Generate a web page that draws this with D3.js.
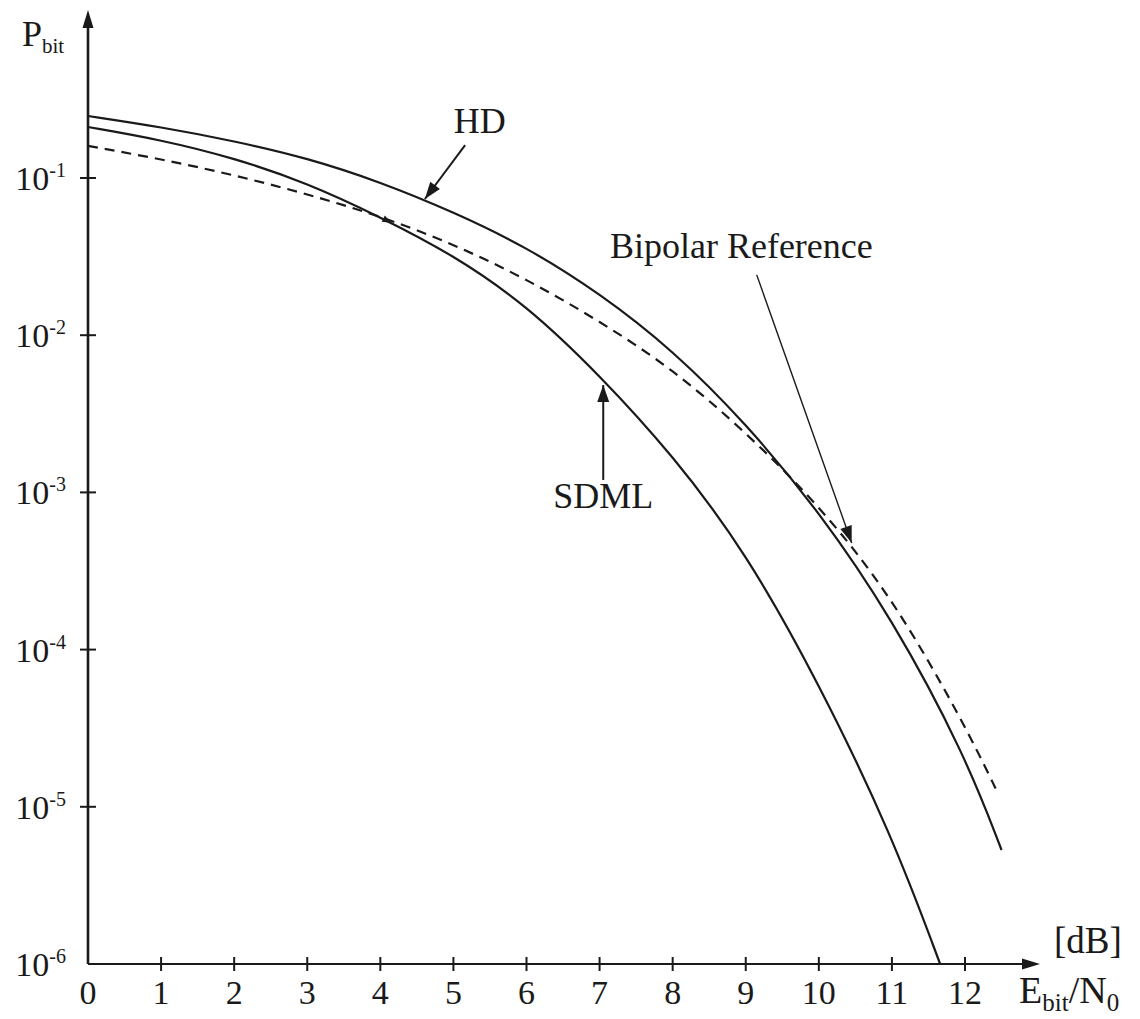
<!DOCTYPE html>
<html>
<head>
<meta charset="utf-8">
<script src="https://cdnjs.cloudflare.com/ajax/libs/d3/7.8.5/d3.min.js"></script>
<style>
  body { margin: 0; background: #fff; }
  svg { display: block; font-family: "Liberation Serif", "Times New Roman", serif; }
  text { fill: #1a1a1a; }
</style>
</head>
<body>
<div id="chart"></div>
<script>
// values (Eb/N0 in dB, bit error probability)
const xTicks = [0, 1, 2, 3, 4, 5, 6, 7, 8, 9, 10, 11, 12];
const yTickExp = [-1, -2, -3, -4, -5, -6];

const hdDb = [0, 1, 2, 3, 4, 5, 6, 7, 8, 9, 10, 11, 12, 12.5];
const hdP = [0.248, 0.211, 0.172, 0.134, 0.0944, 0.0608, 0.0364, 0.0185, 0.00805, 0.00276, 7.62e-4, 1.59e-4, 2.14e-5, 5.31e-6];

const sdmlDb = [0, 1, 2, 3, 4, 5, 6, 7, 8, 9, 10, 11, 11.66];
const sdmlP = [0.211, 0.175, 0.134, 0.0929, 0.0565, 0.0324, 0.01556, 0.00558, 0.00173, 4.18e-4, 6.14e-5, 6.62e-6, 1.0e-6];

const bipolarDb = [0, 1, 2, 3, 4, 5, 6, 7, 8, 9, 10, 11, 12, 12.45];
const bipolarP = [0.160, 0.132, 0.1045, 0.0791, 0.0573, 0.038, 0.0228, 0.0123, 0.0061, 0.00242, 8.32e-4, 2.19e-4, 3.31e-5, 1.22e-5];

// annotations: label position, arrow start, arrow tip (data units)
const notes = [
  { text: "HD", at: [5.36, 0.193], from: [5.16, 0.162], to: [4.61, 0.0735], thin: false },
  { text: "Bipolar Reference", at: [8.94, 0.031], from: [9.15, 0.0242], to: [10.45, 4.76e-4], thin: true },
  { text: "SDML", at: [7.05, 8.0e-4], from: [7.05, 1.2e-3], to: [7.05, 4.82e-3], thin: false }
];

const W = 1140, H = 1019;
const svg = d3.select("#chart").append("svg")
  .attr("width", W).attr("height", H);

const x = d3.scaleLinear().domain([0, 12]).range([88, 965]);
const y = d3.scaleLog().domain([1e-6, 1e-1]).range([964, 178]);

const ink = "#1a1a1a";
const x0 = x(0), yBase = y(1e-6);

function arrowHead(g, tip, from, len, half) {
  const dx = tip[0] - from[0], dy = tip[1] - from[1];
  const d = Math.hypot(dx, dy), ux = dx / d, uy = dy / d;
  const bx = tip[0] - ux * len, by = tip[1] - uy * len;
  g.append("path")
    .attr("d", `M${tip[0]},${tip[1]}L${bx - uy * half},${by + ux * half}L${bx + uy * half},${by - ux * half}Z`)
    .attr("fill", ink);
}

/* ------- AXES -------*/
const axes = svg.append("g");
axes.append("line")
  .attr("x1", x0).attr("y1", yBase).attr("x2", x0).attr("y2", 22)
  .attr("stroke", ink).attr("stroke-width", 2.6);
arrowHead(axes, [x0, 10], [x0, 100], 18, 5.5);

axes.append("line")
  .attr("x1", x0).attr("y1", yBase).attr("x2", 1026).attr("y2", yBase)
  .attr("stroke", ink).attr("stroke-width", 2.2);
arrowHead(axes, [1040, yBase], [900, yBase], 18, 5.5);

axes.selectAll("line.xt").data(xTicks.slice(1)).enter().append("line")
  .attr("class", "xt")
  .attr("x1", d => x(d)).attr("x2", d => x(d))
  .attr("y1", yBase - 7).attr("y2", yBase + 7)
  .attr("stroke", ink).attr("stroke-width", 2);

axes.selectAll("text.xl").data(xTicks).enter().append("text")
  .attr("class", "xl")
  .attr("x", d => x(d)).attr("y", yBase + 40)
  .attr("text-anchor", "middle")
  .attr("font-size", 34)
  .text(d => d);

axes.selectAll("line.yt").data(yTickExp.slice(0, -1)).enter().append("line")
  .attr("class", "yt")
  .attr("x1", x0 - 8).attr("x2", x0 + 8)
  .attr("y1", d => y(Math.pow(10, d))).attr("y2", d => y(Math.pow(10, d)))
  .attr("stroke", ink).attr("stroke-width", 2);

const yl = axes.selectAll("text.yl").data(yTickExp).enter().append("text")
  .attr("class", "yl")
  .attr("x", 66).attr("y", d => y(Math.pow(10, d)) + 12)
  .attr("text-anchor", "end");
yl.append("tspan").attr("font-size", 34).text("10");
yl.append("tspan").attr("font-size", 20).attr("dy", -13).text(d => d);

// axis titles
const py = svg.append("text").attr("x", 22).attr("y", 46);
py.append("tspan").attr("font-size", 36).text("P");
py.append("tspan").attr("font-size", 21).attr("dy", 7).text("bit");

svg.append("text").attr("x", 1054).attr("y", 953)
  .attr("font-size", 37).text("[dB]");

const xt = svg.append("text").attr("x", 1019).attr("y", 1003);
xt.append("tspan").attr("font-size", 38).text("E");
xt.append("tspan").attr("font-size", 25).attr("dy", 8).text("bit");
xt.append("tspan").attr("font-size", 38).attr("dy", -8).text("/N");
xt.append("tspan").attr("font-size", 25).attr("dy", 8).text("0");

/* ------- CURVES -------*/
const line = d3.line()
  .x(d => x(d[0]))
  .y(d => y(d[1]))
  .curve(d3.curveBasis);

const curves = [
  { db: hdDb, p: hdP, dash: null },
  { db: sdmlDb, p: sdmlP, dash: null },
  { db: bipolarDb, p: bipolarP, dash: "10,7" }
];

svg.append("g").selectAll("path").data(curves).enter().append("path")
  .attr("d", c => line(c.db.map((v, i) => [v, c.p[i]])))
  .attr("fill", "none")
  .attr("stroke", ink)
  .attr("stroke-width", 2.2)
  .attr("stroke-dasharray", c => c.dash);

// small arrowhead sitting on the SDML curve where the dashed line meets it
const logAt = (db, ps, v) => {
  const i = d3.bisectRight(db, v) - 1, t = (v - db[i]) / (db[i + 1] - db[i]);
  return Math.pow(10, Math.log10(ps[i]) * (1 - t) + Math.log10(ps[i + 1]) * t);
};
arrowHead(svg, [x(4.15), y(logAt(sdmlDb, sdmlP, 4.15))],
  [x(3.9), y(logAt(sdmlDb, sdmlP, 3.9))], 9, 3.5);

/* ------- LABELS + ARROWS -------*/
const ann = svg.append("g");
notes.forEach(n => {
  const a = [x(n.from[0]), y(n.from[1])], b = [x(n.to[0]), y(n.to[1])];
  ann.append("line")
    .attr("x1", a[0]).attr("y1", a[1]).attr("x2", b[0]).attr("y2", b[1])
    .attr("stroke", ink).attr("stroke-width", n.thin ? 1.4 : 2);
  arrowHead(ann, b, a, 17, 6);
  ann.append("text")
    .attr("x", x(n.at[0])).attr("y", y(n.at[1]))
    .attr("text-anchor", "middle")
    .attr("font-size", 36)
    .text(n.text);
});
</script>
</body>
</html>
